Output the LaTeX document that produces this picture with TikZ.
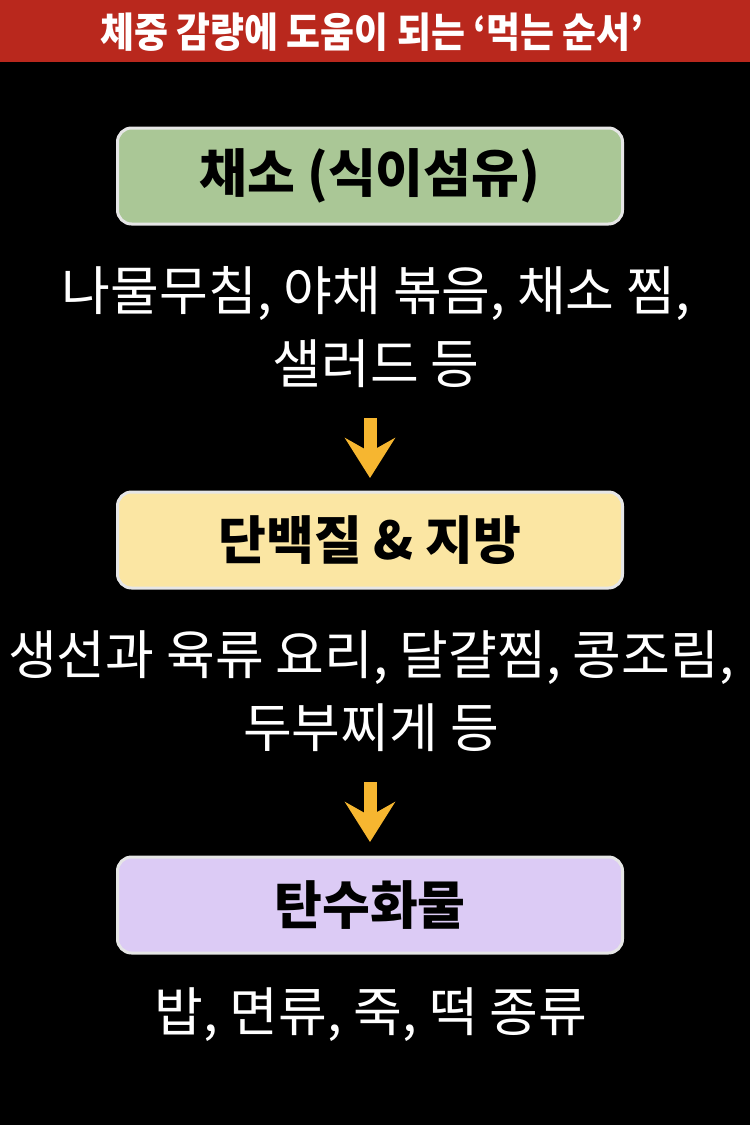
\documentclass[tikz,border=0pt]{standalone}
\usepackage{fontspec}
\newfontfamily\kr{Noto Sans CJK KR}
\usetikzlibrary{arrows.meta}
\definecolor{hdrred}{HTML}{B9281D}
\definecolor{boxgreen}{HTML}{AAC796}
\definecolor{boxyellow}{HTML}{FBE6A3}
\definecolor{boxpurple}{HTML}{DCCBF5}
\definecolor{arrowyellow}{HTML}{F6B630}
\definecolor{boxedge}{HTML}{E6E6E6}
\tikzset{
  catbox/.style={draw=boxedge, line width=3pt, rounded corners=14pt, minimum width=505pt, minimum height=96pt, inner sep=0pt, font=\kr\bfseries\fontsize{52}{56}\selectfont, text=black},
  bodytext/.style={text=white, align=center, font=\kr\fontsize{53}{73}\selectfont, inner sep=0pt},
  flowarrow/.style={draw=arrowyellow, line width=13pt, -{Stealth[length=40pt, width=50pt, inset=14pt, fill=arrowyellow]}}
}
\begin{document}
\begin{tikzpicture}[x=1pt, y=-1pt]
\useasboundingbox (0,0) rectangle (750,1125);
\fill[black] (0,0) rectangle (750,1125);
\fill[hdrred] (0,0) rectangle (750,62);
\node[text=white, font=\kr\bfseries\fontsize{41}{44}\selectfont, inner sep=0pt] (title) at (372,32) {\scalebox{0.9}[1]{체중 감량에 도움이 되는 ‘먹는 순서’}};

\node[catbox, fill=boxgreen] (veg) at (370,176) {채소 (식이섬유)};
\node[bodytext] (vegtxt) at (376,327) {나물무침, 야채 볶음, 채소 찜,\\샐러드 등};
\coordinate (a1s) at (370,418);
\coordinate (a1e) at (370,478);
\draw[flowarrow] (a1s) -- (a1e);

\node[catbox, fill=boxyellow] (prot) at (370,540) {단백질 \& 지방};
\node[bodytext] (prottxt) at (371,691) {생선과 육류 요리, 달걀찜, 콩조림,\\두부찌게 등};
\coordinate (a2s) at (370,782);
\coordinate (a2e) at (370,842);
\draw[flowarrow] (a2s) -- (a2e);

\node[catbox, fill=boxpurple] (carb) at (370,905) {탄수화물};
\node[bodytext] (carbtxt) at (371,1015) {밥, 면류, 죽, 떡 종류};
\end{tikzpicture}
\end{document}
